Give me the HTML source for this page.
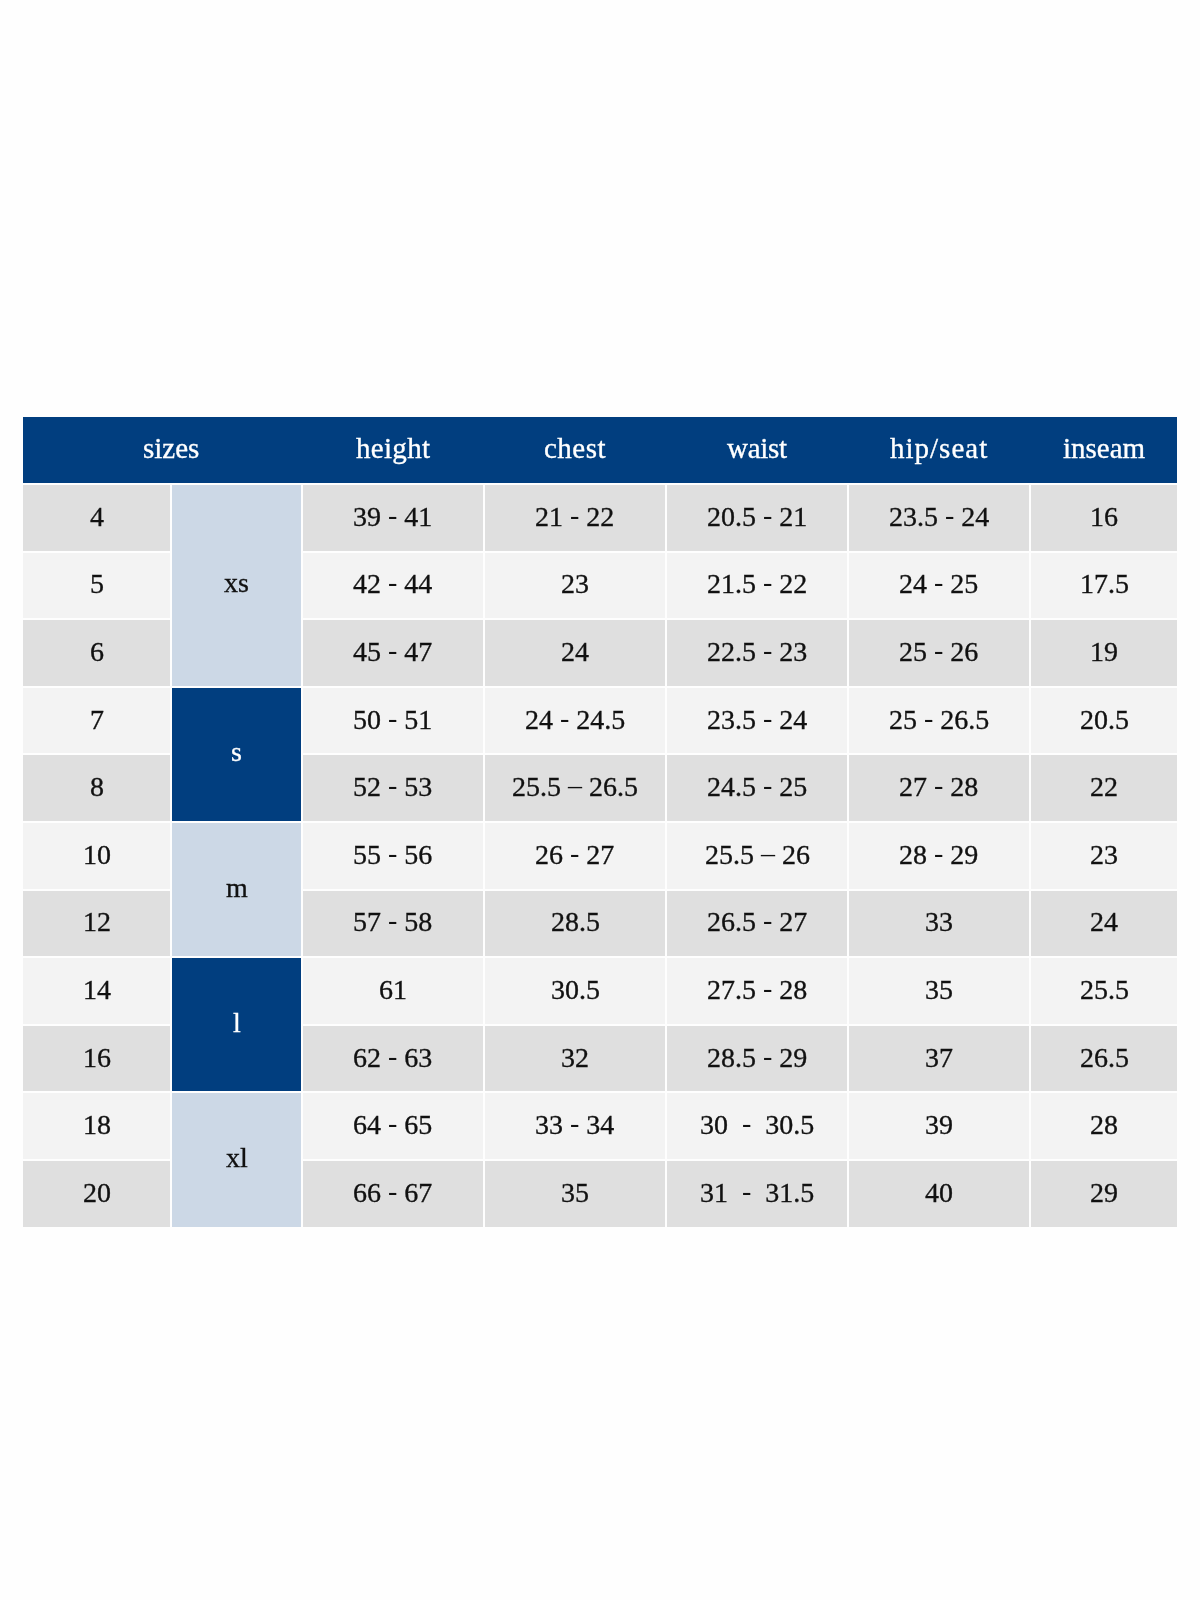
<!DOCTYPE html>
<html><head><meta charset="utf-8"><title>Size chart</title>
<style>
html,body{margin:0;padding:0;background:#fefefe;}
body{width:1200px;height:1600px;position:relative;overflow:hidden;font-family:"Liberation Serif",serif;}
.c{position:absolute;display:flex;align-items:center;justify-content:center;white-space:pre;font-size:28px;color:#111111;line-height:1;}
.h{font-size:29px;color:#fff;}
.c span{display:block;position:relative;-webkit-text-stroke:0.35px currentColor;will-change:transform;}
.c i{font-style:normal;position:relative;top:-2px;-webkit-text-stroke:0;}
</style></head><body>
<div class="c" style="left:23px;top:417px;width:1154px;height:66px;background:#013e7f"></div>
<div class="c h" style="left:23px;top:417px;width:296px;height:66px"><span style="top:-2px;letter-spacing:0px;margin-right:0px">sizes</span></div>
<div class="c h" style="left:303px;top:417px;width:180px;height:66px"><span style="top:-2px;letter-spacing:0.3px;margin-right:-0.3px">height</span></div>
<div class="c h" style="left:485px;top:417px;width:180px;height:66px"><span style="top:-2px;letter-spacing:0.5px;margin-right:-0.5px">chest</span></div>
<div class="c h" style="left:667px;top:417px;width:180px;height:66px"><span style="top:-2px;letter-spacing:-0.3px;margin-right:0.3px">waist</span></div>
<div class="c h" style="left:849px;top:417px;width:180px;height:66px"><span style="top:-2px;letter-spacing:1.0px;margin-right:-1.0px">hip/seat</span></div>
<div class="c h" style="left:1031px;top:417px;width:146px;height:66px"><span style="top:-2px;letter-spacing:0px;margin-right:0px">inseam</span></div>
<div class="c" style="left:23px;top:485.0px;width:147px;height:65.6px;background:#dfdfdf"><span style="top:-1px">4</span></div>
<div class="c" style="left:303px;top:485.0px;width:180px;height:65.6px;background:#dfdfdf"><span style="top:-1px">39 <i>-</i> 41</span></div>
<div class="c" style="left:485px;top:485.0px;width:180px;height:65.6px;background:#dfdfdf"><span style="top:-1px">21 <i>-</i> 22</span></div>
<div class="c" style="left:667px;top:485.0px;width:180px;height:65.6px;background:#dfdfdf"><span style="top:-1px">20.5 <i>-</i> 21</span></div>
<div class="c" style="left:849px;top:485.0px;width:180px;height:65.6px;background:#dfdfdf"><span style="top:-1px">23.5 <i>-</i> 24</span></div>
<div class="c" style="left:1031px;top:485.0px;width:146px;height:65.6px;background:#dfdfdf"><span style="top:-1px">16</span></div>
<div class="c" style="left:23px;top:552.6px;width:147px;height:65.6px;background:#f3f3f3"><span style="top:-1px">5</span></div>
<div class="c" style="left:303px;top:552.6px;width:180px;height:65.6px;background:#f3f3f3"><span style="top:-1px">42 <i>-</i> 44</span></div>
<div class="c" style="left:485px;top:552.6px;width:180px;height:65.6px;background:#f3f3f3"><span style="top:-1px">23</span></div>
<div class="c" style="left:667px;top:552.6px;width:180px;height:65.6px;background:#f3f3f3"><span style="top:-1px">21.5 <i>-</i> 22</span></div>
<div class="c" style="left:849px;top:552.6px;width:180px;height:65.6px;background:#f3f3f3"><span style="top:-1px">24 <i>-</i> 25</span></div>
<div class="c" style="left:1031px;top:552.6px;width:146px;height:65.6px;background:#f3f3f3"><span style="top:-1px">17.5</span></div>
<div class="c" style="left:23px;top:620.2px;width:147px;height:65.6px;background:#dfdfdf"><span style="top:-1px">6</span></div>
<div class="c" style="left:303px;top:620.2px;width:180px;height:65.6px;background:#dfdfdf"><span style="top:-1px">45 <i>-</i> 47</span></div>
<div class="c" style="left:485px;top:620.2px;width:180px;height:65.6px;background:#dfdfdf"><span style="top:-1px">24</span></div>
<div class="c" style="left:667px;top:620.2px;width:180px;height:65.6px;background:#dfdfdf"><span style="top:-1px">22.5 <i>-</i> 23</span></div>
<div class="c" style="left:849px;top:620.2px;width:180px;height:65.6px;background:#dfdfdf"><span style="top:-1px">25 <i>-</i> 26</span></div>
<div class="c" style="left:1031px;top:620.2px;width:146px;height:65.6px;background:#dfdfdf"><span style="top:-1px">19</span></div>
<div class="c" style="left:23px;top:687.8px;width:147px;height:65.6px;background:#f3f3f3"><span style="top:-1px">7</span></div>
<div class="c" style="left:303px;top:687.8px;width:180px;height:65.6px;background:#f3f3f3"><span style="top:-1px">50 <i>-</i> 51</span></div>
<div class="c" style="left:485px;top:687.8px;width:180px;height:65.6px;background:#f3f3f3"><span style="top:-1px">24 <i>-</i> 24.5</span></div>
<div class="c" style="left:667px;top:687.8px;width:180px;height:65.6px;background:#f3f3f3"><span style="top:-1px">23.5 <i>-</i> 24</span></div>
<div class="c" style="left:849px;top:687.8px;width:180px;height:65.6px;background:#f3f3f3"><span style="top:-1px">25 <i>-</i> 26.5</span></div>
<div class="c" style="left:1031px;top:687.8px;width:146px;height:65.6px;background:#f3f3f3"><span style="top:-1px">20.5</span></div>
<div class="c" style="left:23px;top:755.4px;width:147px;height:65.6px;background:#dfdfdf"><span style="top:-1px">8</span></div>
<div class="c" style="left:303px;top:755.4px;width:180px;height:65.6px;background:#dfdfdf"><span style="top:-1px">52 <i>-</i> 53</span></div>
<div class="c" style="left:485px;top:755.4px;width:180px;height:65.6px;background:#dfdfdf"><span style="top:-1px">25.5 <i>–</i> 26.5</span></div>
<div class="c" style="left:667px;top:755.4px;width:180px;height:65.6px;background:#dfdfdf"><span style="top:-1px">24.5 <i>-</i> 25</span></div>
<div class="c" style="left:849px;top:755.4px;width:180px;height:65.6px;background:#dfdfdf"><span style="top:-1px">27 <i>-</i> 28</span></div>
<div class="c" style="left:1031px;top:755.4px;width:146px;height:65.6px;background:#dfdfdf"><span style="top:-1px">22</span></div>
<div class="c" style="left:23px;top:823.0px;width:147px;height:65.6px;background:#f3f3f3"><span style="top:-1px">10</span></div>
<div class="c" style="left:303px;top:823.0px;width:180px;height:65.6px;background:#f3f3f3"><span style="top:-1px">55 <i>-</i> 56</span></div>
<div class="c" style="left:485px;top:823.0px;width:180px;height:65.6px;background:#f3f3f3"><span style="top:-1px">26 <i>-</i> 27</span></div>
<div class="c" style="left:667px;top:823.0px;width:180px;height:65.6px;background:#f3f3f3"><span style="top:-1px">25.5 <i>–</i> 26</span></div>
<div class="c" style="left:849px;top:823.0px;width:180px;height:65.6px;background:#f3f3f3"><span style="top:-1px">28 <i>-</i> 29</span></div>
<div class="c" style="left:1031px;top:823.0px;width:146px;height:65.6px;background:#f3f3f3"><span style="top:-1px">23</span></div>
<div class="c" style="left:23px;top:890.6px;width:147px;height:65.6px;background:#dfdfdf"><span style="top:-1px">12</span></div>
<div class="c" style="left:303px;top:890.6px;width:180px;height:65.6px;background:#dfdfdf"><span style="top:-1px">57 <i>-</i> 58</span></div>
<div class="c" style="left:485px;top:890.6px;width:180px;height:65.6px;background:#dfdfdf"><span style="top:-1px">28.5</span></div>
<div class="c" style="left:667px;top:890.6px;width:180px;height:65.6px;background:#dfdfdf"><span style="top:-1px">26.5 <i>-</i> 27</span></div>
<div class="c" style="left:849px;top:890.6px;width:180px;height:65.6px;background:#dfdfdf"><span style="top:-1px">33</span></div>
<div class="c" style="left:1031px;top:890.6px;width:146px;height:65.6px;background:#dfdfdf"><span style="top:-1px">24</span></div>
<div class="c" style="left:23px;top:958.2px;width:147px;height:65.6px;background:#f3f3f3"><span style="top:-1px">14</span></div>
<div class="c" style="left:303px;top:958.2px;width:180px;height:65.6px;background:#f3f3f3"><span style="top:-1px">61</span></div>
<div class="c" style="left:485px;top:958.2px;width:180px;height:65.6px;background:#f3f3f3"><span style="top:-1px">30.5</span></div>
<div class="c" style="left:667px;top:958.2px;width:180px;height:65.6px;background:#f3f3f3"><span style="top:-1px">27.5 <i>-</i> 28</span></div>
<div class="c" style="left:849px;top:958.2px;width:180px;height:65.6px;background:#f3f3f3"><span style="top:-1px">35</span></div>
<div class="c" style="left:1031px;top:958.2px;width:146px;height:65.6px;background:#f3f3f3"><span style="top:-1px">25.5</span></div>
<div class="c" style="left:23px;top:1025.8px;width:147px;height:65.6px;background:#dfdfdf"><span style="top:-1px">16</span></div>
<div class="c" style="left:303px;top:1025.8px;width:180px;height:65.6px;background:#dfdfdf"><span style="top:-1px">62 <i>-</i> 63</span></div>
<div class="c" style="left:485px;top:1025.8px;width:180px;height:65.6px;background:#dfdfdf"><span style="top:-1px">32</span></div>
<div class="c" style="left:667px;top:1025.8px;width:180px;height:65.6px;background:#dfdfdf"><span style="top:-1px">28.5 <i>-</i> 29</span></div>
<div class="c" style="left:849px;top:1025.8px;width:180px;height:65.6px;background:#dfdfdf"><span style="top:-1px">37</span></div>
<div class="c" style="left:1031px;top:1025.8px;width:146px;height:65.6px;background:#dfdfdf"><span style="top:-1px">26.5</span></div>
<div class="c" style="left:23px;top:1093.4px;width:147px;height:65.6px;background:#f3f3f3"><span style="top:-1px">18</span></div>
<div class="c" style="left:303px;top:1093.4px;width:180px;height:65.6px;background:#f3f3f3"><span style="top:-1px">64 <i>-</i> 65</span></div>
<div class="c" style="left:485px;top:1093.4px;width:180px;height:65.6px;background:#f3f3f3"><span style="top:-1px">33 <i>-</i> 34</span></div>
<div class="c" style="left:667px;top:1093.4px;width:180px;height:65.6px;background:#f3f3f3"><span style="top:-1px">30  <i>-</i>  30.5</span></div>
<div class="c" style="left:849px;top:1093.4px;width:180px;height:65.6px;background:#f3f3f3"><span style="top:-1px">39</span></div>
<div class="c" style="left:1031px;top:1093.4px;width:146px;height:65.6px;background:#f3f3f3"><span style="top:-1px">28</span></div>
<div class="c" style="left:23px;top:1161.0px;width:147px;height:65.6px;background:#dfdfdf"><span style="top:-1px">20</span></div>
<div class="c" style="left:303px;top:1161.0px;width:180px;height:65.6px;background:#dfdfdf"><span style="top:-1px">66 <i>-</i> 67</span></div>
<div class="c" style="left:485px;top:1161.0px;width:180px;height:65.6px;background:#dfdfdf"><span style="top:-1px">35</span></div>
<div class="c" style="left:667px;top:1161.0px;width:180px;height:65.6px;background:#dfdfdf"><span style="top:-1px">31  <i>-</i>  31.5</span></div>
<div class="c" style="left:849px;top:1161.0px;width:180px;height:65.6px;background:#dfdfdf"><span style="top:-1px">40</span></div>
<div class="c" style="left:1031px;top:1161.0px;width:146px;height:65.6px;background:#dfdfdf"><span style="top:-1px">29</span></div>
<div class="c" style="left:172px;top:485.0px;width:129px;height:200.8px;background:#ccd8e6;color:#111111"><span style="top:-2px">xs</span></div>
<div class="c" style="left:172px;top:687.8px;width:129px;height:133.2px;background:#013e7f;color:#ffffff"><span style="top:-2px">s</span></div>
<div class="c" style="left:172px;top:823.0px;width:129px;height:133.2px;background:#ccd8e6;color:#111111"><span style="top:-2px">m</span></div>
<div class="c" style="left:172px;top:958.2px;width:129px;height:133.2px;background:#013e7f;color:#ffffff"><span style="top:-2px">l</span></div>
<div class="c" style="left:172px;top:1093.4px;width:129px;height:133.2px;background:#ccd8e6;color:#111111"><span style="top:-2px">xl</span></div>
</body></html>
